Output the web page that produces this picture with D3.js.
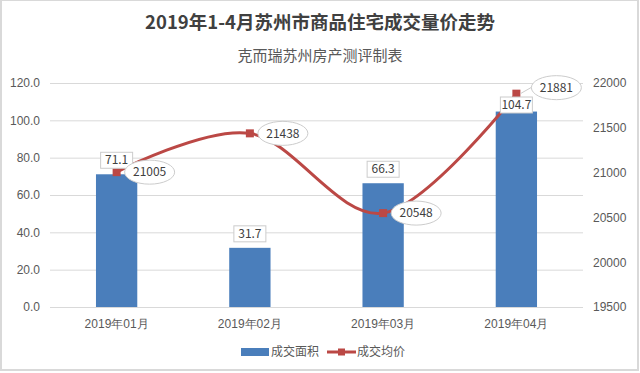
<!DOCTYPE html>
<html>
<head>
<meta charset="utf-8">
<script src="https://cdn.jsdelivr.net/npm/d3@7"></script>
<style>
  body { margin: 0; background: #fff; }
  svg { display: block; font-family: "Noto Sans CJK SC", "Microsoft YaHei", sans-serif; }
</style>
</head>
<body>
<svg id="chart" width="640" height="373"></svg>
<script>
var months = ['2019年01月', '2019年02月', '2019年03月', '2019年04月'];
var area = [71.1, 31.7, 66.3, 104.7];
var price = [21005, 21438, 20548, 21881];
var leftTicks = [0, 20, 40, 60, 80, 100, 120];
var rightTicks = [19500, 20000, 20500, 21000, 21500, 22000];

var svg = d3.select('#chart');
var width = 640, height = 373;
var margin = {left: 50, right: 57, top: 83, bottom: 66};
var barColor = '#4a7ebb', lineColor = '#bb4845', gridColor = '#d9d9d9', textColor = '#595959';

// outer frame
svg.append('rect').attr('x', 1).attr('y', 0).attr('width', width - 3).attr('height', height - 3)
  .attr('fill', '#fff').attr('stroke', '#d9d9d9').attr('stroke-width', 2);

// titles
svg.append('text').attr('x', 320).attr('y', 29).attr('text-anchor', 'middle')
  .attr('font-size', 18.5).attr('font-weight', 'bold').attr('fill', '#404040')
  .text('2019年1-4月苏州市商品住宅成交量价走势');
svg.append('text').attr('x', 320).attr('y', 61).attr('text-anchor', 'middle')
  .attr('font-size', 15).attr('fill', textColor)
  .text('克而瑞苏州房产测评制表');

var x = d3.scaleBand().domain(months).range([margin.left, width - margin.right]).paddingInner(0.69).paddingOuter(0.345);
var yL = d3.scaleLinear().domain([0, 120]).range([height - margin.bottom, margin.top]);
var yR = d3.scaleLinear().domain([19500, 22000]).range([height - margin.bottom, margin.top]);

// grid
svg.append('g').selectAll('line').data(leftTicks).enter().append('line')
  .attr('x1', margin.left).attr('x2', width - margin.right)
  .attr('y1', d => yL(d) + 0.5).attr('y2', d => yL(d) + 0.5)
  .attr('stroke', gridColor).attr('stroke-width', 1);

// left axis
var gl = svg.append('g').attr('transform', 'translate(' + (margin.left - 10) + ',0)')
  .call(d3.axisLeft(yL).tickValues(leftTicks).tickFormat(d3.format('.1f')).tickSize(0).tickPadding(0));
gl.select('.domain').remove();
gl.selectAll('text').attr('font-size', 12).attr('fill', textColor).attr('font-family', 'inherit');

// right axis
var gr = svg.append('g').attr('transform', 'translate(' + (width - margin.right + 10) + ',0)')
  .call(d3.axisRight(yR).tickValues(rightTicks).tickFormat(d3.format('d')).tickSize(0).tickPadding(0));
gr.select('.domain').remove();
gr.selectAll('text').attr('font-size', 12).attr('fill', textColor).attr('font-family', 'inherit');

// bottom axis
var gb = svg.append('g').attr('transform', 'translate(0,' + (height - margin.bottom + 0.5) + ')')
  .call(d3.axisBottom(x).tickSize(0).tickPadding(12));
gb.select('.domain').attr('stroke', gridColor).attr('d', 'M' + margin.left + ',0H' + (width - margin.right));
gb.selectAll('text').attr('font-size', 12).attr('fill', textColor).attr('font-family', 'inherit');

// bars
svg.append('g').selectAll('rect').data(area).enter().append('rect')
  .attr('x', (d, i) => x(months[i])).attr('width', x.bandwidth())
  .attr('y', d => yL(d)).attr('height', d => yL(0) - yL(d))
  .attr('fill', barColor);

// price line
var line = d3.line().x((d, i) => x(months[i]) + x.bandwidth() / 2).y(d => yR(d))
  .curve(d3.curveCatmullRom.alpha(0));
svg.append('path').datum(price).attr('d', line).attr('fill', 'none')
  .attr('stroke', lineColor).attr('stroke-width', 3);

svg.append('g').selectAll('rect').data(price).enter().append('rect')
  .attr('x', (d, i) => x(months[i]) + x.bandwidth() / 2 - 4).attr('y', d => yR(d) - 4)
  .attr('width', 8).attr('height', 8).attr('fill', lineColor);

// bar labels
var bl = svg.append('g').selectAll('g').data(area).enter().append('g')
  .attr('transform', (d, i) => {
    var cy = Math.max(yL(d) - 14, 105);
    return 'translate(' + (x(months[i]) + x.bandwidth() / 2) + ',' + cy + ')';
  });
bl.append('rect').attr('x', -16).attr('y', -8).attr('width', 32).attr('height', 16)
  .attr('fill', '#fff').attr('stroke', '#cccccc');
bl.append('text').attr('text-anchor', 'middle').attr('dy', '0.35em')
  .attr('font-size', 12).attr('fill', '#404040').text(d => d.toFixed(1));

// price callouts
var pl = svg.append('g').selectAll('g').data(price).enter().append('g')
  .attr('transform', (d, i) => {
    var px = x(months[i]) + x.bandwidth() / 2, py = yR(d);
    if (i === price.length - 1) return 'translate(' + (px + 40) + ',' + (py - 6) + ')';
    return 'translate(' + (px + 33) + ',' + py + ')';
  });
pl.filter((d, i) => i === price.length - 1).append('line')
  .attr('x1', -36).attr('y1', 6).attr('x2', -22).attr('y2', -2).attr('stroke', '#cccccc');
pl.append('ellipse').attr('rx', 25).attr('ry', 12).attr('fill', '#fff').attr('stroke', '#cccccc');
pl.append('text').attr('text-anchor', 'middle').attr('dy', '0.35em')
  .attr('font-size', 12).attr('fill', '#404040').text(d => d);

// legend
var lg = svg.append('g').attr('transform', 'translate(0,352)');
lg.append('rect').attr('x', 241).attr('y', -4).attr('width', 28).attr('height', 8).attr('fill', barColor);
lg.append('text').attr('x', 271).attr('dy', '0.35em').attr('font-size', 12).attr('fill', textColor).text('成交面积');
lg.append('line').attr('x1', 327).attr('x2', 356).attr('stroke', lineColor).attr('stroke-width', 3);
lg.append('rect').attr('x', 338).attr('y', -3.5).attr('width', 7).attr('height', 7).attr('fill', lineColor);
lg.append('text').attr('x', 357).attr('dy', '0.35em').attr('font-size', 12).attr('fill', textColor).text('成交均价');
</script>
</body>
</html>
